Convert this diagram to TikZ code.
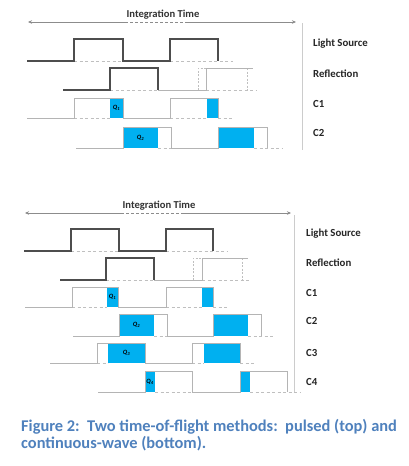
\documentclass[tikz,border=0pt]{standalone}
\usepackage{fontspec}
\setmainfont{Carlito}
\usetikzlibrary{arrows.meta}
\definecolor{darkline}{HTML}{4D4D4D}
\definecolor{greyline}{HTML}{B4B4B4}
\definecolor{dashgrey}{HTML}{BFBFBF}
\definecolor{qblue}{HTML}{00B0F0}
\definecolor{capblue}{HTML}{4F81BD}
\definecolor{arrowgrey}{HTML}{8C8C8C}
\tikzset{
  darkwave/.style={draw=darkline,line width=1.3pt},
  wave/.style={draw=greyline,line width=1pt},
  baseline dash/.style={draw=dashgrey,line width=0.9pt,dash pattern=on 3pt off 2.5pt},
  vdash/.style={draw=dashgrey,line width=0.8pt,dash pattern=on 2pt off 1.5pt},
  qbox/.style={fill=qblue,draw=none},
  rowlabel/.style={anchor=base west,font=\bfseries\fontsize{10.8}{12}\selectfont,text=black!85,inner sep=0pt},
  titlelabel/.style={anchor=base,font=\bfseries\fontsize{10.6}{12}\selectfont,text=black!80,inner sep=0pt},
  qlabel/.style={font=\bfseries\itshape\fontsize{6.5}{7}\selectfont,text=black,inner sep=0pt},
  spanarrow/.style={draw=arrowgrey,line width=0.6pt},
  separator/.style={draw=black!20,line width=0.8pt},
  caption/.style={anchor=base west,font=\bfseries\fontsize{16.4}{19}\selectfont,text=capblue,inner sep=0pt}
}
\begin{document}
\begin{tikzpicture}[x=1pt,y=-1pt]
\useasboundingbox (0,0) rectangle (409,466);
\fill[white] (0,0) rectangle (409,466);

%%%%%%%%%%%%%%%% TOP PANEL %%%%%%%%%%%%%%%%
\node[titlelabel] (it1) at (163,17.5) {Integration Time};
\coordinate (a1l) at (28,22);
\coordinate (a1r) at (296,22);
\coordinate (a1m1) at (125,22);
\coordinate (a1m2) at (185,22);
\draw[spanarrow,{Stealth[length=4pt,width=3.5pt]}-] (a1l) -- (a1m1);
\draw[spanarrow,-{Stealth[length=4pt,width=3.5pt]}] (a1m2) -- (a1r);
\draw[spanarrow,dash pattern=on 3pt off 2pt] (a1m1) -- (a1m2);
\draw[separator] (302,23) -- (302,150);

% Light source
\draw[baseline dash] (74,61) -- (123,61) (170,61) -- (233,61);
\draw[darkwave] (27,61) -- (74,61) -- (74,39) -- (123,39) -- (123,61) -- (170,61) -- (170,39) -- (218,39) -- (218,61);

% Reflection
\draw[baseline dash] (110,90) -- (158,90) (206,90) -- (256,90);
\draw[vdash] (198,90) -- (198,68) -- (206,68) (247,68) -- (247,90);
\draw[wave] (158,90) -- (206,90) -- (206,68) -- (253,68);
\draw[darkwave] (63,90) -- (110,90) -- (110,68) -- (158,68) -- (158,90);

% C1
\draw[baseline dash] (74,118) -- (110,118) (170,118) -- (207,118) (218,118) -- (233,118);
\fill[qbox] (110,98) rectangle (123,118);
\fill[qbox] (207,98) rectangle (218,118);
\draw[wave] (27,118) -- (74,118) -- (74,98) -- (123,98) -- (123,118) -- (170,118) -- (170,98) -- (218,98) -- (218,118);

% C2
\draw[baseline dash] (76,148) -- (123,148) (158,148) -- (171,148) (254,148) -- (282,148);
\fill[qbox] (123,127) rectangle (158,148);
\fill[qbox] (218,127) rectangle (254,148);
\draw[wave] (76,148) -- (123,148) -- (123,127) -- (171,127) -- (171,148) -- (218,148) -- (218,127) -- (267,127) -- (267,148);

\node[qlabel] (tq1) at (116.5,108) {Q\textsubscript{1}};
\node[qlabel] (tq2) at (140.5,138) {Q\textsubscript{2}};

\node[rowlabel] (tls) at (313,46.5) {Light Source};
\node[rowlabel] (trf) at (313,77.5) {Reflection};
\node[rowlabel] (tc1) at (313,107.5) {C1};
\node[rowlabel] (tc2) at (313,136.5) {C2};

%%%%%%%%%%%%%%%% BOTTOM PANEL %%%%%%%%%%%%%%%%
\node[titlelabel] (it2) at (159,208.5) {Integration Time};
\coordinate (a2l) at (25,213);
\coordinate (a2r) at (291,213);
\coordinate (a2m1) at (121,213);
\coordinate (a2m2) at (181,213);
\draw[spanarrow,{Stealth[length=4pt,width=3.5pt]}-] (a2l) -- (a2m1);
\draw[spanarrow,-{Stealth[length=4pt,width=3.5pt]}] (a2m2) -- (a2r);
\draw[spanarrow,dash pattern=on 3pt off 2pt] (a2m1) -- (a2m2);
\draw[separator] (294,215) -- (294,392);

% Light source
\draw[baseline dash] (71,251) -- (119,251) (166,251) -- (228,251);
\draw[darkwave] (24,251) -- (71,251) -- (71,229) -- (119,229) -- (119,251) -- (166,251) -- (166,229) -- (213,229) -- (213,251);

% Reflection
\draw[baseline dash] (106,280) -- (154,280) (202,280) -- (250,280);
\draw[vdash] (193,280) -- (193,258) -- (202,258) (242,258) -- (242,280);
\draw[wave] (154,280) -- (202,280) -- (202,258) -- (248,258);
\draw[darkwave] (60,280) -- (106,280) -- (106,258) -- (154,258) -- (154,280);

% C1
\draw[baseline dash] (72,307) -- (107,307) (166,307) -- (202,307) (213,307) -- (228,307);
\fill[qbox] (107,287) rectangle (118,307);
\fill[qbox] (202,287) rectangle (213,307);
\draw[wave] (25,307) -- (72,307) -- (72,287) -- (118,287) -- (118,307) -- (166,307) -- (166,287) -- (213,287) -- (213,307);

% C2
\draw[baseline dash] (154,336) -- (167,336) (248,336) -- (275,336);
\fill[qbox] (119,314) rectangle (154,336);
\fill[qbox] (214,314) rectangle (248,336);
\draw[wave] (73,336) -- (119,336) -- (119,314) -- (167,314) -- (167,336) -- (213,336) -- (213,314) -- (261,314) -- (261,336);

% C3
\draw[baseline dash] (97,363) -- (108,363) (192,363) -- (204,363) (240,363) -- (254,363);
\fill[qbox] (108,343) rectangle (145,363);
\fill[qbox] (204,343) rectangle (240,363);
\draw[wave] (50,363) -- (97,363) -- (97,343) -- (145,343) -- (145,363) -- (192,363) -- (192,343) -- (240,343) -- (240,363);

% C4
\draw[baseline dash] (155,392) -- (192,392) (250,392) -- (300,392);
\fill[qbox] (145,371) rectangle (155,392);
\fill[qbox] (240,371) rectangle (250,392);
\draw[wave] (98,392) -- (145,392) -- (145,371) -- (192,371) -- (192,392) -- (240,392) -- (240,371) -- (287,371) -- (287,392);

\node[qlabel] (bq1) at (112.5,297) {Q\textsubscript{1}};
\node[qlabel] (bq2) at (136.5,325) {Q\textsubscript{2}};
\node[qlabel] (bq3) at (126.5,353) {Q\textsubscript{3}};
\node[qlabel] (bq4) at (150,381.5) {Q\textsubscript{4}};

\node[rowlabel] (bls) at (306,236.5) {Light Source};
\node[rowlabel] (brf) at (306,266.5) {Reflection};
\node[rowlabel] (bc1) at (306,296.5) {C1};
\node[rowlabel] (bc2) at (306,324.5) {C2};
\node[rowlabel] (bc3) at (306,356.5) {C3};
\node[rowlabel] (bc4) at (306,385.5) {C4};

%%%%%%%%%%%%%%%% CAPTION %%%%%%%%%%%%%%%%
\node[caption] (cap1) at (21,431.5) {Figure 2:\ \ Two time-of-flight methods:\ \ pulsed (top) and};
\node[caption] (cap2) at (21,448.5) {continuous-wave (bottom).};
\end{tikzpicture}
\end{document}
